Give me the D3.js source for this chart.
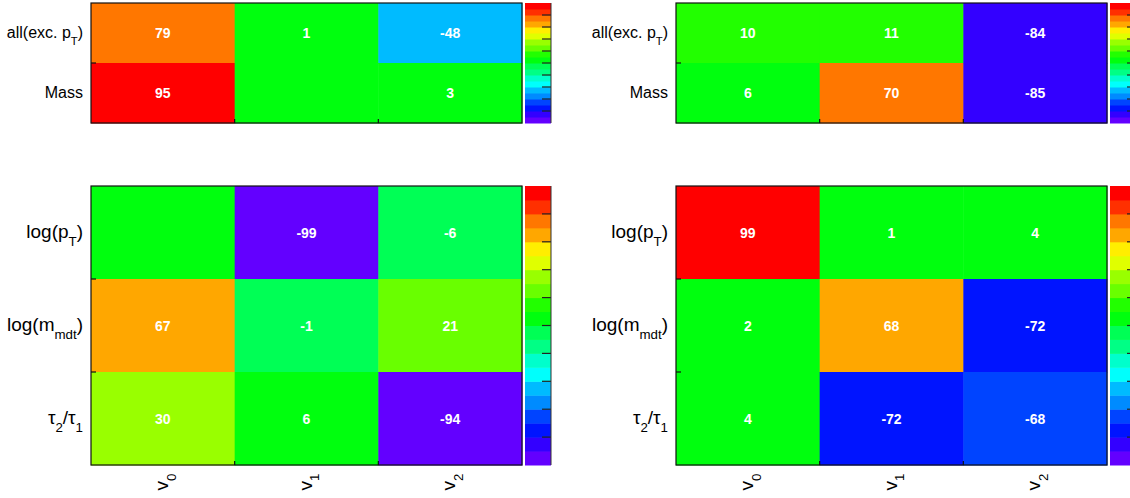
<!DOCTYPE html>
<html>
<head>
<meta charset="utf-8">
<script src="https://cdn.jsdelivr.net/npm/d3@7"></script>
<style>
  body { margin: 0; background: #fff; }
  svg { display: block; font-family: "Liberation Sans", Arial, sans-serif; }
</style>
</head>
<body>
<svg id="chart" width="1130" height="498"></svg>
<script>
// columns (x axis)
var columns = [
  [{t: 'v'}, {t: '0', sub: true}],
  [{t: 'v'}, {t: '1', sub: true}],
  [{t: 'v'}, {t: '2', sub: true}]
]

// row labels
var topRows = [
  [{t: 'all(exc. p'}, {t: 'T', sub: true}, {t: ')'}],
  [{t: 'Mass'}]
]
var bottomRows = [
  [{t: 'log(p'}, {t: 'T', sub: true}, {t: ')'}],
  [{t: 'log(m'}, {t: 'mdt', sub: true}, {t: ')'}],
  [{t: 'τ'}, {t: '2', sub: true}, {t: '/τ'}, {t: '1', sub: true}]
]

// correlation values (percent), rows top to bottom, columns v0 v1 v2
var topLeftValues = [[79, 1, -48], [95, 0, 3]]
var topRightValues = [[10, 11, -84], [6, 70, -85]]
var bottomLeftValues = [[0, -99, -6], [67, -1, 21], [30, 6, -94]]
var bottomRightValues = [[99, 1, 4], [2, 68, -72], [4, -72, -68]]

// palette contours
var levels = d3.range(-100, 101, 10)
var paletteTicks = [-80, -60, -40, -20, 0, 20, 40, 60, 80]

/** ROOT pretty palette, 50 hues, picked for 20 contours */
var nCont = levels.length - 1
var colors = d3.range(nCont).map(function (k) {
  var idx = Math.floor((k + 0.99) * 50 / nCont)
  var hue = 280 - (idx + 1) * 5.6
  return d3.hsl(hue, 1, 0.5).formatHex()
})
var color = d3.scaleThreshold().domain(levels.slice(1, -1)).range(colors)

var svg = d3.select('#chart')

var panels = [
  {x: 91, y: 3, w: 431, h: 120, rows: topRows, values: topLeftValues, xlab: false, fs: 16},
  {x: 676, y: 3, w: 431, h: 120, rows: topRows, values: topRightValues, xlab: false, fs: 16},
  {x: 91, y: 186, w: 431, h: 279, rows: bottomRows, values: bottomLeftValues, xlab: true, fs: 19},
  {x: 676, y: 186, w: 431, h: 279, rows: bottomRows, values: bottomRightValues, xlab: true, fs: 19}
]

function addParts (sel, parts, fs) {
  var last = null
  parts.forEach(function (p) {
    var ts = sel.append('tspan').text(p.t)
    if (p.sub) {
      ts.attr('font-size', fs * 0.7).attr('dy', fs * 0.42)
    } else if (last && last.sub) {
      ts.attr('dy', -fs * 0.42)
    }
    last = p
  })
}

panels.forEach(function (pn) {
  var g = svg.append('g')
  var xs = d3.scaleBand().domain(d3.range(3)).range([pn.x, pn.x + pn.w])
  var ys = d3.scaleBand().domain(d3.range(pn.rows.length)).range([pn.y, pn.y + pn.h])

  var cells = []
  pn.values.forEach(function (row, r) {
    row.forEach(function (v, c) { cells.push({r: r, c: c, v: v}) })
  })

  g.selectAll('rect.cell').data(cells).enter().append('rect')
    .attr('class', 'cell')
    .attr('x', function (d) { return xs(d.c) })
    .attr('y', function (d) { return ys(d.r) })
    .attr('width', xs.bandwidth() + 0.5)
    .attr('height', ys.bandwidth() + 0.5)
    .attr('fill', function (d) { return color(d.v) })

  g.selectAll('text.val').data(cells.filter(function (d) { return d.v !== 0 })).enter().append('text')
    .attr('class', 'val')
    .attr('x', function (d) { return xs(d.c) + xs.bandwidth() / 2 })
    .attr('y', function (d) { return ys(d.r) + ys.bandwidth() / 2 })
    .attr('dy', '0.36em')
    .attr('text-anchor', 'middle')
    .attr('font-size', 14)
    .attr('font-weight', 'bold')
    .attr('fill', '#fff')
    .text(function (d) { return d.v })

  // frame
  g.append('rect')
    .attr('x', pn.x).attr('y', pn.y).attr('width', pn.w).attr('height', pn.h)
    .attr('fill', 'none').attr('stroke', '#111').attr('stroke-width', 1.2)

  // axis ticks at bin edges
  d3.range(1, pn.rows.length).forEach(function (r) {
    g.append('line').attr('x1', pn.x).attr('x2', pn.x + 5)
      .attr('y1', ys(r)).attr('y2', ys(r)).attr('stroke', '#111').attr('stroke-width', 1.2)
  })
  d3.range(1, 3).forEach(function (c) {
    g.append('line').attr('x1', xs(c)).attr('x2', xs(c))
      .attr('y1', pn.y + pn.h).attr('y2', pn.y + pn.h - 4).attr('stroke', '#111').attr('stroke-width', 1.2)
  })

  // row labels
  pn.rows.forEach(function (parts, r) {
    var t = g.append('text')
      .attr('x', pn.x - 8)
      .attr('y', ys(r) + ys.bandwidth() / 2 + pn.fs * 0.3)
      .attr('text-anchor', 'end')
      .attr('font-size', pn.fs)
      .attr('fill', '#000')
    addParts(t, parts, pn.fs)
  })

  // column labels
  if (pn.xlab) {
    columns.forEach(function (parts, c) {
      var cx = xs(c) + xs.bandwidth() / 2 + 5
      var cy = pn.y + pn.h + 17
      var t = g.append('text')
        .attr('transform', 'translate(' + cx + ',' + cy + ') rotate(-90)')
        .attr('text-anchor', 'middle')
        .attr('font-size', 19)
        .attr('fill', '#000')
      addParts(t, parts, 19)
    })
  }

  // palette
  var px = pn.x + pn.w + 3, pw = 26
  var yp = d3.scaleLinear().domain([-100, 100]).range([pn.y + pn.h, pn.y])
  var bands = d3.range(nCont).map(function (k) { return {lo: levels[k], hi: levels[k + 1]} })
  g.selectAll('rect.pal').data(bands).enter().append('rect')
    .attr('class', 'pal')
    .attr('x', px)
    .attr('y', function (d) { return yp(d.hi) })
    .attr('width', pw)
    .attr('height', function (d) { return yp(d.lo) - yp(d.hi) + 0.5 })
    .attr('fill', function (d) { return color(d.lo + 5) })
  g.selectAll('line.ptick').data(paletteTicks).enter().append('line')
    .attr('class', 'ptick')
    .attr('x1', px + pw).attr('x2', px + pw - 9)
    .attr('y1', function (d) { return yp(d) }).attr('y2', function (d) { return yp(d) })
    .attr('stroke', '#222').attr('stroke-width', 1.2)
  g.append('line').attr('x1', px + pw).attr('x2', px + pw)
    .attr('y1', pn.y).attr('y2', pn.y + pn.h).attr('stroke', '#333').attr('stroke-width', 1)
})
</script>
</body>
</html>
